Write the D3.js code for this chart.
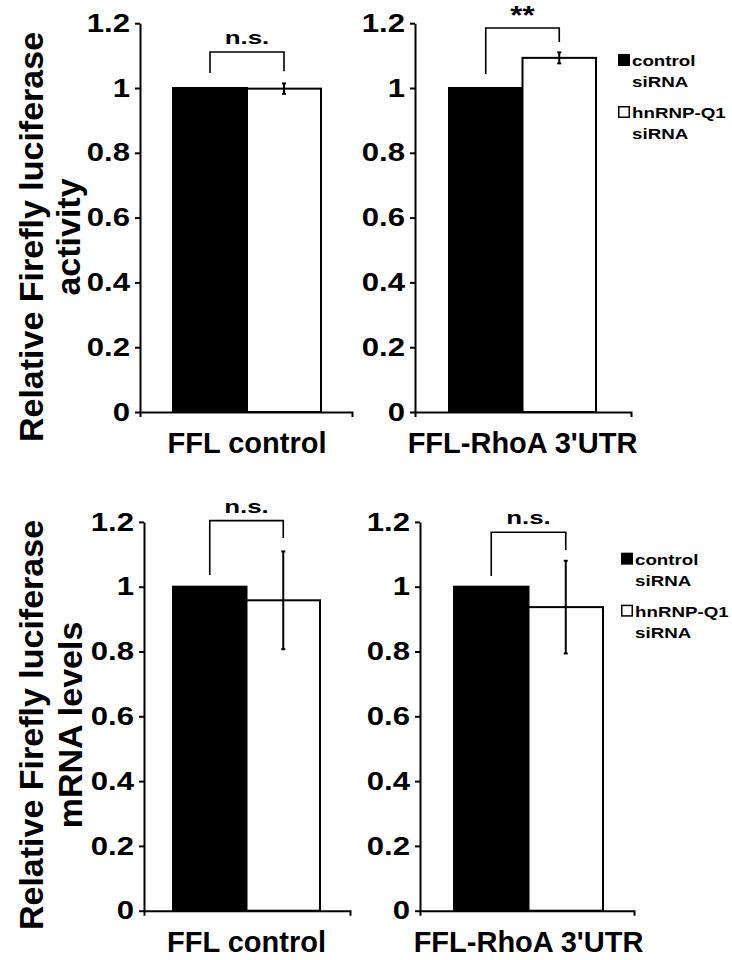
<!DOCTYPE html>
<html>
<head>
<meta charset="utf-8">
<script src="https://cdn.jsdelivr.net/npm/d3@7/dist/d3.min.js"></script>
<style>
  body { margin: 0; background: #fff; }
  text { font-family: "Liberation Sans", Arial, sans-serif; font-weight: bold; fill: #000; }
</style>
</head>
<body>
<div id="chart"></div>
<script>
// 1: DATA
const categories = ["FFL control", "FFL-RhoA 3'UTR"];
const series = ["control siRNA", "hnRNP-Q1 siRNA"];
const legendLines = [["control", "siRNA"], ["hnRNP-Q1", "siRNA"]];

// [control, hnRNP-Q1] per category
const activityValues = [[1, 0.998], [1, 1.093]];
const activityErrors = [[0, 0.016], [0, 0.017]];
const mrnaValues = [[1, 0.958], [1, 0.937]];
const mrnaErrors = [[0, 0.151], [0, 0.143]];

// significance marks and bracket heights (top, left leg end, right leg end)
const activitySig = ["n.s.", "**"];
const mrnaSig = ["n.s.", "n.s."];
const activityBrackets = [[1.111, 1.046, 1.052], [1.185, 1.043, 1.142]];
const mrnaBrackets = [[1.204, 1.036, 1.150], [1.168, 1.033, 1.113]];

const yTicks = [0, 0.2, 0.4, 0.6, 0.8, 1, 1.2];
const yTickLabels = ["0", "0.2", "0.4", "0.6", "0.8", "1", "1.2"];
const yTitles = [["Relative Firefly luciferase", "activity"], ["Relative Firefly luciferase", "mRNA levels"]];

// 2: LAYOUT
const W = 732, H = 960;
const rows = [
  { y0: 412, y1: 23.2, values: activityValues, errors: activityErrors, sig: activitySig, brackets: activityBrackets,
    title: yTitles[0], titleY: 237, titleX: [43, 80], legendX: 618 },
  { y0: 910.7, y1: 521.9, values: mrnaValues, errors: mrnaErrors, sig: mrnaSig, brackets: mrnaBrackets,
    title: yTitles[1], titleY: 725, titleX: [43, 82], legendX: 621 }
];
// per row, per category: axis x, axis width, bar group range
const cols = [
  [{ x: 140, w: 212, g: [33, 181] }, { x: 415, w: 216, g: [34, 181] }],
  [{ x: 144, w: 206, g: [29, 176] }, { x: 420, w: 214, g: [34, 183] }]
];

const svg = d3.select("#chart").append("svg")
  .attr("width", W)
  .attr("height", H);

// text stretched horizontally like the original figure
function stretched(parent, x, y, str, size, sx, anchor) {
  return parent.append("text")
    .attr("transform", `translate(${x},${y}) scale(${sx},1)`)
    .attr("text-anchor", anchor || "start")
    .style("font-size", size + "px")
    .text(str);
}

rows.forEach((row, ri) => {
  // y title
  row.title.forEach((t, li) => {
    svg.append("text")
      .attr("transform", `translate(${row.titleX[li]},${row.titleY}) rotate(-90)`)
      .attr("text-anchor", "middle")
      .style("font-size", "34px")
      .text(t);
  });

  categories.forEach((cat, ci) => {
    const c = cols[ri][ci];
    const g = svg.append("g").attr("transform", `translate(${c.x},0)`);

    const y = d3.scaleLinear().domain([0, 1.2]).range([row.y0, row.y1]);
    const x = d3.scaleBand().domain(series).range(c.g).padding(0);

    const vals = row.values[ci], errs = row.errors[ci];

    // bars
    g.selectAll("rect.bar")
      .data(series)
      .enter()
      .append("rect")
      .attr("class", "bar")
      .attr("x", d => x(d))
      .attr("y", (d, i) => y(vals[i]))
      .attr("width", x.bandwidth())
      .attr("height", (d, i) => y(0) - y(vals[i]))
      .style("fill", (d, i) => i === 0 ? "#000" : "#fff")
      .style("stroke", "#000")
      .style("stroke-width", 2);

    // error bars
    series.forEach((s, i) => {
      if (!errs[i]) return;
      const cx = x(s) + x.bandwidth() / 2;
      g.append("line")
        .attr("x1", cx).attr("x2", cx)
        .attr("y1", y(vals[i] + errs[i])).attr("y2", y(vals[i] - errs[i]))
        .style("stroke", "#000").style("stroke-width", 2);
      [vals[i] + errs[i], vals[i] - errs[i]].forEach(v => {
        g.append("line")
          .attr("x1", cx - 2).attr("x2", cx + 2)
          .attr("y1", y(v)).attr("y2", y(v))
          .style("stroke", "#000").style("stroke-width", 2);
      });
    });

    // significance bracket
    const b = row.brackets[ci];
    const lx = x(series[0]) + x.bandwidth() / 2;
    const rx = x(series[1]) + x.bandwidth() / 2;
    g.append("path")
      .attr("d", `M${lx},${y(b[1])}V${y(b[0])}H${rx}V${y(b[2])}`)
      .style("fill", "none")
      .style("stroke", "#000")
      .style("stroke-width", 1.6);
    const star = row.sig[ci] === "**";
    stretched(g, (lx + rx) / 2, y(b[0]) - (star ? 4 : 8), row.sig[ci], star ? 26 : 18.5, star ? 1.2 : 1.4, "middle");

    // y axis
    const yAxis = g.append("g")
      .call(d3.axisLeft(y)
        .tickValues(yTicks)
        .tickFormat((d, i) => yTickLabels[i])
        .tickSize(5)
        .tickSizeOuter(0)
        .tickPadding(5));
    yAxis.select(".domain").style("stroke-width", 2);
    yAxis.selectAll(".tick line").style("stroke-width", 2);
    yAxis.selectAll(".tick text")
      .style("font-size", "25.5px")
      .style("font-family", '"Liberation Sans", Arial, sans-serif')
      .style("font-weight", "bold")
      .attr("x", -10 / 1.22)
      .attr("transform", "scale(1.22,1)");

    // x axis (outer ticks only)
    const xAxis = g.append("g")
      .attr("transform", `translate(0,${row.y0})`)
      .call(d3.axisBottom(d3.scaleLinear().range([0, c.w]))
        .tickValues([])
        .tickSizeOuter(5));
    xAxis.select(".domain").style("stroke-width", 2);

    // x label
    g.append("text")
      .attr("x", (c.g[0] + c.g[1]) / 2)
      .attr("y", row.y0 + 41)
      .attr("text-anchor", "middle")
      .style("font-size", "29px")
      .text(cat);
  });

  // legend next to right panel
  const yL = d3.scaleLinear().domain([0, 1.2]).range([row.y0, row.y1]);
  const lg = svg.append("g")
    .attr("transform", `translate(${row.legendX},${yL(1.105)})`);
  series.forEach((s, i) => {
    lg.append("rect")
      .attr("x", 0.75).attr("y", i * 52 + 0.75)
      .attr("width", 10.5).attr("height", 10.5)
      .style("fill", i === 0 ? "#000" : "#fff")
      .style("stroke", "#000")
      .style("stroke-width", 1.5);
    legendLines[i].forEach((t, li) => {
      stretched(lg, 14, i * 52 + 12 + li * 21.5, t, 15, 1.25, "start");
    });
  });
});
</script>
</body>
</html>
